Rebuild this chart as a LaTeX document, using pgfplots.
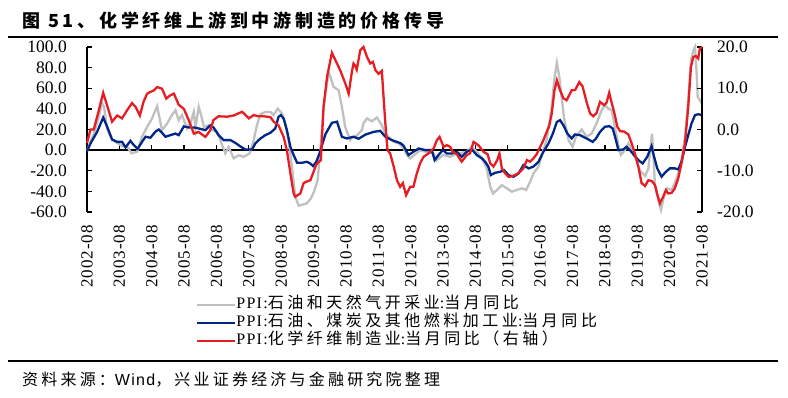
\documentclass[border=0pt]{standalone}
\usepackage{fontspec}
\usepackage{pgfplots}
\pgfplotsset{compat=1.18}
\newfontfamily\titC{Noto Sans CJK SC}[LetterSpace=21]
\newfontfamily\legC{Noto Sans CJK SC}[LetterSpace=22]
\newfontfamily\legT{Liberation Serif}[LetterSpace=8]
\newfontfamily\srcC{Noto Sans CJK SC}[LetterSpace=20]
\newfontfamily\srcL{Liberation Sans}[LetterSpace=8]
\newfontfamily\tnr{Liberation Serif}
\newfontfamily\tnrL{Liberation Serif}[LetterSpace=6]
\definecolor{cgray}{RGB}{192,192,192}
\definecolor{cblue}{RGB}{0,38,136}
\definecolor{cred}{RGB}{230,30,35}
\begin{document}
\begin{tikzpicture}[x=1pt,y=1pt]
\path[use as bounding box] (0,0) rectangle (788,398);
\node[anchor=west,inner sep=0pt] at (22,377) {\titC\bfseries\fontsize{18}{20}\selectfont 图 51、化学纤维上游到中游制造的价格传导};
\draw[line width=1.3pt] (8,361) -- (778,361);
\draw[line width=2pt] (8,36.5) -- (778,36.5);
\node[anchor=west,inner sep=0pt] at (22,18) {\fontsize{16}{18}\selectfont{\srcC 资料来源：}{\srcL Wind}{\srcC ，兴业证券经济与金融研究院整理}};
\begin{axis}[
  at={(87pt,186pt)}, anchor=south west,
  width=615pt, height=165pt, scale only axis,
  xmin=0, xmax=228, ymin=-60, ymax=100,
  clip=false,
  axis y line*=left, axis x line*=bottom,
  x axis line style={draw=none},
  axis line style={line width=1.5pt},
  xtick={0,12,...,228},
  xticklabels={2002-08,2003-08,2004-08,2005-08,2006-08,2007-08,2008-08,2009-08,2010-08,2011-08,2012-08,2013-08,2014-08,2015-08,2016-08,2017-08,2018-08,2019-08,2020-08,2021-08},
  xtick style={draw=none},
  xticklabel style={rotate=90,anchor=east,inner sep=0pt,font=\tnrL\fontsize{17}{18}\selectfont,xshift=-13pt},
  ytick={-60,-40,...,100},
  tick align=inside, major tick length=5pt,
  ytick style={line width=1.3pt,black},
  /pgf/number format/assume math mode=true,
  yticklabel={\pgfmathprintnumber[fixed,fixed zerofill,precision=1]{\tick}},
  yticklabel style={anchor=east,inner sep=0pt,xshift=-20pt,font=\tnr\fontsize{17.5}{18}\selectfont},
  legend style={at={(axis description cs:0.177,-0.509)},anchor=north west,draw=none,fill=none,
    font=\fontsize{16}{18}\selectfont,row sep=0pt,inner sep=0pt,
    nodes={inner sep=0pt,text height=12pt,text depth=6pt}},
  legend cell align=left,
  legend image code/.code={\draw[#1] (0pt,0pt) -- (38pt,0pt);},
]
\draw[line width=1.5pt] (axis cs:0,0) -- (axis cs:228,0);
\pgfplotsinvokeforeach{12,24,36,48,60,72,84,96,108,120,132,144,156,168,180,192,204,216}{\draw[line width=1.3pt] (axis cs:#1,0) -- (axis cs:#1,5);}
\addplot[cgray,line width=2.3pt] coordinates {
(0,-1)(2.5,16)(4.4,32)(5.5,46)(6.3,42)(7.5,20)(9.3,10)(11.2,7)(13,4)(15,3)(16.5,-3)(18.6,-1.6)(20.4,13)(22.3,22.6)(24.1,30.6)(26,42.6)(27.8,19.4)(29.7,25.8)(31.5,34)(32.8,38.7)(34,29)(35.2,34)(37.1,21)(38.3,25.8)(39.6,37)(40.2,21)(41.4,42)(42.3,34)(43.3,22.6)(45.1,24)(46.4,19.4)(48.2,18)(50.1,4.8)(51.3,-3.2)(52.5,3)(54.4,-8)(56.2,-5)(58.1,-6.5)(60.3,-3.2)(61.8,9.7)(63,24.2)(64.3,34.8)(66.1,37)(68,37)(69.2,34)(70.7,40.3)(72.3,35.5)(73.5,25.8)(74.7,9.7)(76,-16)(77.2,-45)(78.5,-54)(79.7,-53)(81.5,-51.6)(83,-46.8)(84.2,-40)(85.5,-29)(86.5,0)(87.7,42)(89.6,76)(91.4,61.4)(93.3,58)(94.5,42)(95.7,22.6)(97.6,9.7)(98.2,12)(100,14)(101.9,19.4)(102.5,26)(103.8,30.7)(105.6,28)(107.5,31.7)(109.3,24)(110.6,16)(111.8,13)(113.7,8)(115.5,6.5)(117.4,1.6)(118.6,-4.8)(119.8,-8)(121,-5.5)(123.5,0)(126,-2)(128.5,-3.2)(129.7,-9.7)(132,-4.8)(134.6,-6.5)(137.1,-3.2)(140.8,-1.6)(142.7,3.2)(144.5,-1.6)(146.4,-8)(148,-16)(149.5,-35.5)(150.5,-42)(152,-38.7)(153.8,-33.9)(155.6,-37)(157.5,-40.3)(159.3,-38.7)(161.2,-37)(162.8,-38.7)(164.3,-30.6)(165.5,-22.6)(167.4,-16)(168.6,-4.8)(170.4,9.7)(172.3,42)(173.2,67.7)(174.2,84.5)(175.1,71)(176,50)(176.9,30.6)(178.5,9.7)(180,3.2)(181.3,13)(183.4,20)(185.2,13)(187.1,16)(188.9,25.8)(190.8,38.7)(192,43.5)(193.3,40.3)(194.5,38.7)(195.7,22.6)(197,4.8)(197.9,-4.8)(199.4,0)(200.7,6.5)(202,0)(203.6,-9.7)(205,-20)(206.9,-25)(208.1,-18)(209.5,16)(210.6,-35.5)(211.8,-48.4)(212.8,-58)(213.9,-45)(215.1,-37)(216.7,-38.7)(217.9,-32)(219.2,-22.6)(220.4,-9.7)(221.7,13)(222.9,48.4)(223.9,87)(224.8,96.8)(225.4,100)(226,75)(226.4,51.6)(227.2,48.4)(228,45)
};
\addlegendentry{{\legT PPI:}{\legC 石油和天然气开采业}{\legT :}{\legC 当月同比}}
\addplot[cblue,line width=2.3pt] coordinates {
(0,-1)(1.3,6.5)(3.8,18)(6,31.6)(7.5,22.6)(9.3,10.3)(11.2,8)(13,8)(14.3,2.6)(16.1,9)(17.3,5)(18.8,1.3)(20.4,8)(21.7,13)(23.5,12)(25.4,18)(26.6,20)(27.8,16.8)(29.1,13)(30.9,14.5)(32.8,16)(34,14.5)(35.9,23)(37.7,22)(39.6,22)(41.4,21)(43.9,19.4)(45.7,24)(46.9,22)(48.8,14.5)(50.7,9.7)(53.2,9.7)(55,7)(56.9,3.5)(58.7,0.6)(61.2,0.6)(62.4,6.5)(64.3,11.3)(66.1,14.5)(68,16.8)(69.8,21)(71,32.3)(71.9,33.9)(72.9,30.6)(74.1,19.4)(75.4,3.2)(76.6,-4.8)(77.9,-12.3)(79.7,-12.3)(81.5,-11.3)(82.8,-13)(83.8,-15.5)(85,-11.3)(86.2,-3.2)(87.7,9.7)(88.5,16)(90.8,26.5)(92.7,27.5)(94.5,12.9)(96.4,11.3)(98.8,13)(100.7,11)(103.2,15)(106.3,17.7)(108.7,18.7)(110.6,13)(113,9.7)(114.9,8)(116.4,6.5)(117.4,4)(119.2,-4.8)(121,-1.6)(123,1.6)(125.4,0)(127.8,0)(128.9,-9.7)(130.3,-4.8)(131.9,0)(133.4,-3.2)(135.3,-3.2)(137.1,-1.6)(138.9,-6.5)(140.8,-1.6)(142.7,0.6)(144.5,-4.8)(146.4,-8)(147.6,-11.3)(148.8,-16)(149.7,-24.2)(151.3,-22)(153.2,-21)(154.6,-19.4)(156.3,-24.2)(158.1,-25.8)(160,-22.6)(161.8,-14.5)(163.7,-17.7)(165.5,-16)(167.4,-11.3)(169.2,-1.6)(171.1,6.5)(172.7,16)(174.2,27.4)(175.4,29)(176.6,24.2)(178.1,16)(179.7,11.3)(180.9,15.2)(182.8,14.5)(185.2,11.3)(187.5,8)(188.7,11.3)(190.2,17.7)(192,22.6)(193.6,23.2)(194.9,21)(196.1,9.7)(197,0)(198.8,0.6)(200,3.2)(201.3,0)(202.8,-4.8)(204.4,-9.7)(206,-12.9)(207.7,-6.5)(209.3,3.9)(209.9,-3)(211.4,-17.7)(213,-25.8)(214.6,-21)(216.1,-17.7)(217.9,-17.7)(219.2,-18.7)(220.4,-11.3)(221.7,3.2)(222.9,14.5)(224.1,25.8)(225.4,33.9)(226.6,34.8)(228,34)
};
\addlegendentry{{\legT PPI:}{\legC 石油、煤炭及其他燃料加工业}{\legT :}{\legC 当月同比}}
\addlegendimage{cred,line width=2.3pt}
\addlegendentry{{\legT PPI:}{\legC 化学纤维制造业}{\legT :}{\legC 当月同比（右轴）}}
\end{axis}
\begin{axis}[
  at={(87pt,186pt)}, anchor=south west,
  width=615pt, height=165pt, scale only axis,
  xmin=0, xmax=228, ymin=-20, ymax=20,
  clip=false,
  axis y line*=right, axis x line=none,
  axis line style={line width=1.5pt},
  ytick={-20,-10,...,20},
  tick align=inside, major tick length=5pt,
  ytick style={line width=1.3pt,black},
  /pgf/number format/assume math mode=true,
  yticklabel={\pgfmathprintnumber[fixed,fixed zerofill,precision=1]{\tick}},
  yticklabel style={anchor=west,inner sep=0pt,xshift=15pt,font=\tnr\fontsize{17.5}{18}\selectfont},
]
\addplot[cred,line width=2.3pt] coordinates {
(0,-3.3)(1.3,0)(2.5,0)(4.4,4.7)(6,8.9)(9.3,1.9)(11.2,3.4)(13,2.7)(14.9,4.7)(16.7,6.4)(18,5.5)(19.6,3.4)(21,6.8)(22.3,8.7)(23.5,9.1)(24.8,9.5)(26,10.3)(27.8,9.9)(29.4,7.5)(30.9,8.3)(32.2,8.7)(34,6)(35.9,5)(37.7,2.3)(39.6,-1)(41.4,-0.6)(43.9,-1.8)(45.7,-0.2)(46.9,2.3)(48.8,3.2)(51.9,3.1)(54.4,3.4)(57.5,4.3)(60,2.7)(61.8,3.5)(63.6,3.2)(65.5,3.2)(68,3)(69.2,1.9)(71,1)(72.9,-1.8)(74.1,-5)(75.4,-10.6)(76.6,-15.5)(77.2,-16.3)(79.1,-15.5)(80.3,-13)(81.5,-12.6)(82.8,-12.3)(83.8,-10.6)(85,-8.5)(86.7,-7.4)(87.7,5.5)(89,12.8)(90.8,18.6)(93.9,14.3)(95.8,11.1)(97,8.7)(98.2,14)(98.8,16)(99.4,15.5)(100,14.5)(101.3,19.2)(102.5,20)(103.8,17.6)(105,16)(106,16.4)(106.9,14.4)(108.1,13.5)(109.3,14.2)(110.6,1.5)(111.4,-5)(112.4,-5.8)(113.7,-9)(114.9,-12.3)(116.1,-13.9)(117.1,-13)(118.3,-15.9)(119.8,-13.9)(121,-13.9)(122.3,-10.6)(123.5,-8.2)(124.8,-6.6)(126.6,-5.8)(128.5,-4.6)(129.7,-2.6)(130.7,-1.8)(132.2,-4.2)(133.4,-3.8)(134.6,-4.2)(135.6,-5.4)(137.1,-6)(138.9,-7.8)(140.8,-6.2)(142,-5.8)(143.3,-3)(145.1,-3.8)(147,-5.4)(148.5,-6)(149.5,-8.2)(150.7,-9)(152.1,-7.4)(152.9,-5.8)(153.8,-9.4)(155,-10.6)(156.3,-11.5)(158.1,-11.2)(160,-10.6)(161.8,-9.4)(163.1,-7.4)(164.3,-7.8)(165.5,-7)(166.7,-6)(168,-4.2)(169.2,-2.6)(170.4,-0.6)(171.4,1)(172.3,3.9)(173.3,9.5)(174.2,11.9)(175.4,9.5)(176.6,7.6)(177.8,7.1)(179.7,9.5)(181,9.6)(182.5,11.5)(183.7,10.5)(185.2,6.7)(186.5,3.9)(187.7,3.2)(188.9,4)(190.2,6.7)(191.7,5.9)(192.6,6.5)(193.6,8.9)(194.5,6.5)(195.4,4.3)(196.6,0.7)(197.6,-0.4)(199.1,-0.5)(200.7,-1.2)(202,-3.5)(203.2,-6)(204.4,-9)(205.6,-13)(206.9,-13.7)(208.1,-12.3)(209.4,-12.5)(210.6,-13.5)(211.5,-15.9)(212.4,-17.9)(213.6,-16.3)(214.6,-14.7)(215.5,-15.5)(216.7,-15.4)(217.9,-14.3)(219.2,-11.8)(220.4,-8.2)(221.7,-3.4)(222.9,5.5)(223.9,15.2)(224.8,17.6)(225.7,17.8)(226.6,17.2)(227.2,19.6)(228,20)
};
\end{axis}
\end{tikzpicture}
\end{document}
